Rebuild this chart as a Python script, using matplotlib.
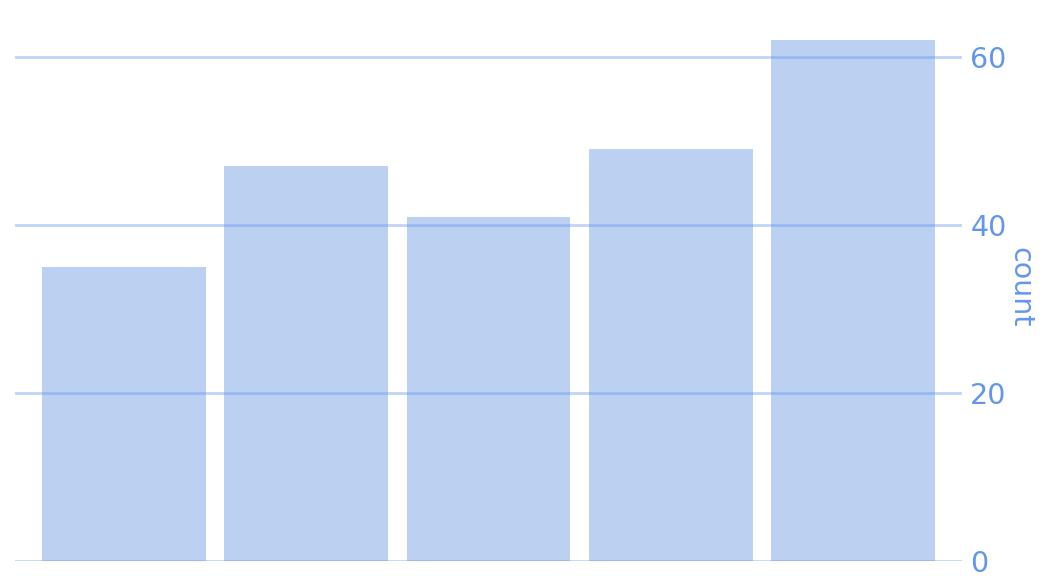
import matplotlib
matplotlib.use("Agg")
import matplotlib.pyplot as plt

plt.rcParams["font.family"] = "DejaVu Sans"

categories = ["A", "B", "C", "D", "E"]
counts = [35, 47, 41, 49, 62]
yticks = [0, 20, 40, 60]

blue = "#6495ED"
bar_color = "#BCD0F2"

fig = plt.figure(figsize=(10.56, 5.76), dpi=100)
ax = fig.add_axes([15 / 1056, 15 / 576, 947 / 1056, (561 - 14.2) / 576])

x = list(range(len(categories)))
ax.bar(x, counts, width=0.9, color=bar_color, zorder=1)

ax.set_xlim(-0.6, len(categories) - 0.4)
ax.set_ylim(0, 65.1)
ax.set_xticks([])
ax.set_yticks(yticks)
ax.yaxis.tick_right()
ax.yaxis.set_label_position("right")
ax.tick_params(axis="y", length=0, pad=6, labelsize=20.5, labelcolor=blue)
ax.grid(axis="y", color=blue, alpha=0.4, linewidth=2, zorder=3)
ax.set_axisbelow(False)
for s in ax.spines.values():
    s.set_visible(False)
ax.set_ylabel("count", color=blue, fontsize=20.5, rotation=270, labelpad=20)

fig.savefig("out.png", dpi=100)
